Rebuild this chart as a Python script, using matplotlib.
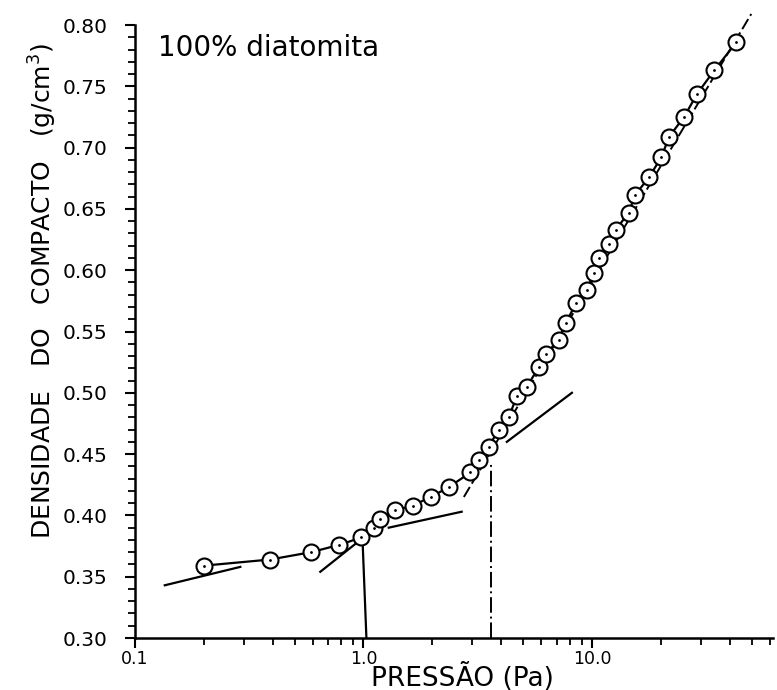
import matplotlib
matplotlib.use('Agg')
import matplotlib.pyplot as plt
import numpy as np

plt.rcParams['font.family'] = 'DejaVu Sans'

# densidade do compacto x pressao, 100% diatomita
pressao = [0.2, 0.39, 0.59, 0.785, 0.98, 1.11, 1.18, 1.37, 1.64, 1.97, 2.36, 2.94,
           3.19, 3.53, 3.91, 4.32, 4.69, 5.19, 5.86, 6.29, 7.16, 7.69, 8.51, 9.51,
           10.2, 10.7, 11.9, 12.7, 14.5, 15.4, 17.8, 20.1, 21.8, 25.3, 28.9, 34.3, 42.9]
densidade = [0.359, 0.364, 0.370, 0.376, 0.382, 0.390, 0.397, 0.404, 0.408, 0.415, 0.423, 0.435,
             0.445, 0.456, 0.470, 0.480, 0.497, 0.505, 0.521, 0.532, 0.543, 0.557, 0.573, 0.584,
             0.598, 0.610, 0.621, 0.633, 0.647, 0.661, 0.676, 0.692, 0.709, 0.725, 0.744, 0.763, 0.786]

# retas tangentes (x0, x1), (y0, y1)
tang1_x, tang1_y = [0.135, 0.289], [0.343, 0.358]
tang2_x, tang2_y = [0.647, 1.0], [0.354, 0.382]
tang3_x, tang3_y = [1.29, 2.69], [0.390, 0.403]
tang4_x, tang4_y = [4.24, 8.17], [0.460, 0.500]
tang5_x, tang5_y = [2.75, 49.8], [0.415, 0.809]

# linhas verticais nos pontos de inflexao
vert1_x, vert1_y = [1.03, 0.99], [0.30, 0.381]
vert2_x, vert2_y = [3.6, 3.6], [0.30, 0.443]

fig = plt.figure(figsize=(7.77, 6.90), dpi=100)
ax = fig.add_axes([135/777, 1-638/690, (773-135)/777, (638-25)/690])

ax.plot(tang1_x, tang1_y, '-k', lw=1.6)
ax.plot(tang2_x, tang2_y, '-k', lw=1.6)
ax.plot(tang3_x, tang3_y, '-k', lw=1.6)
ax.plot(tang4_x, tang4_y, '-k', lw=1.6)
ax.plot(tang5_x, tang5_y, color='k', lw=1.4, ls=(0, (6, 2)), clip_on=False)
ax.plot(vert1_x, vert1_y, '-k', lw=1.6)
ax.plot(vert2_x, vert2_y, color='k', lw=1.4, ls=(0, (8, 2, 1, 2)))

ax.plot(pressao, densidade, '-k', lw=1.6, marker='o', ms=11.5, mfc='white',
        mec='k', mew=1.5, zorder=3)
ax.plot(pressao, densidade, 'k.', ms=2, zorder=4)

ax.set_xscale('log')
ax.set_xlim(0.1, 62)
ax.set_ylim(0.30, 0.80)

ax.set_xticks([0.1, 1.0, 10.0])
ax.set_xticklabels(['0.1', '1.0', '10.0'])
ax.xaxis.set_minor_locator(matplotlib.ticker.LogLocator(base=10, subs=np.arange(2, 10)))
ax.xaxis.set_minor_formatter(matplotlib.ticker.NullFormatter())
ax.set_yticks(np.arange(0.30, 0.801, 0.05))
ax.set_yticklabels(['%.2f' % v for v in np.arange(0.30, 0.801, 0.05)])
ax.yaxis.set_minor_locator(matplotlib.ticker.MultipleLocator(0.01))

ax.spines['top'].set_visible(False)
ax.spines['right'].set_visible(False)
ax.spines['left'].set_linewidth(1.8)
ax.spines['bottom'].set_linewidth(1.8)

ax.tick_params(axis='y', which='major', direction='out', length=7, width=1.5,
               labelsize=14.5, pad=13)
ax.tick_params(axis='y', which='minor', direction='out', length=5, width=1.3)
ax.tick_params(axis='x', which='major', direction='out', length=7, width=1.5,
               labelsize=12.5, pad=2)
ax.tick_params(axis='x', which='minor', direction='out', length=5, width=1.3)

ax.text(0.036, 0.985, '100% diatomita', transform=ax.transAxes,
        fontsize=20, ha='left', va='top')

fig.text(462/777, 1-677/690, 'PRESSÃO (Pa)', fontsize=19, ha='center', va='center')
fig.text(43/777, 1-291/690, 'DENSIDADE   DO   COMPACTO   (g/cm$^3$)', fontsize=18,
         rotation=90, ha='center', va='center')

fig.savefig('out.png', dpi=100)
